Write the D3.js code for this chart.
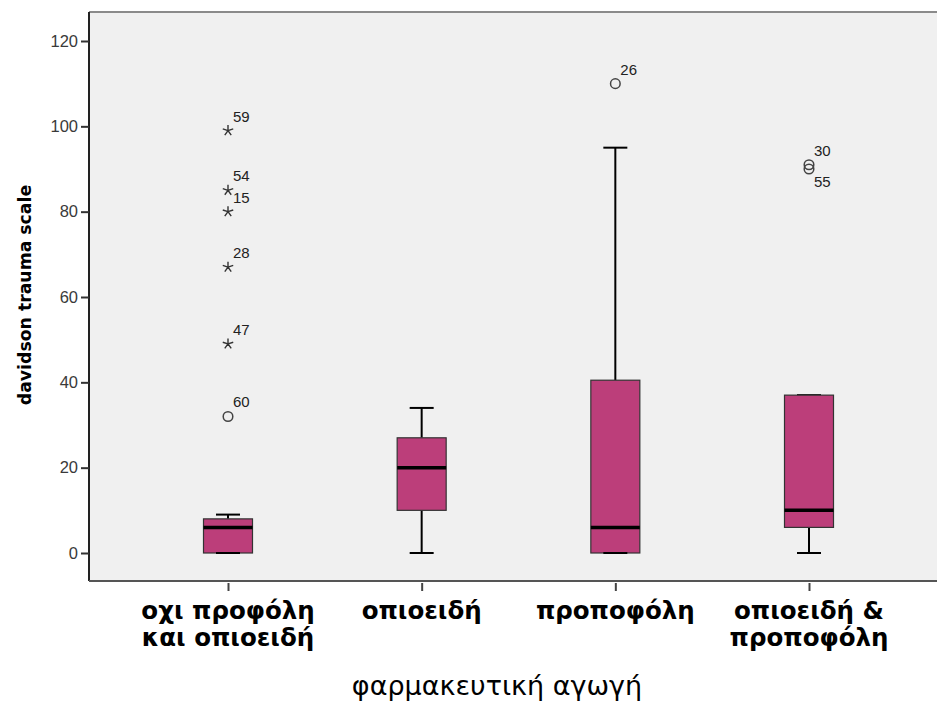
<!DOCTYPE html>
<html>
<head>
<meta charset="utf-8">
<script src="https://cdn.jsdelivr.net/npm/d3@7"></script>
<style>
    body { margin: 0; background: #fff; }
    svg { display: block; }
</style>
</head>
<body>
<svg id="chart" width="937" height="704"></svg>
<script>
// data
const categories = ["g1", "g2", "g3", "g4"];
const categoryLabels = [["οχι προφόλη", "και οπιοειδή"], ["οπιοειδή"], ["προποφόλη"], ["οπιοειδή &", "προποφόλη"]];
const whiskerLow = [0, 0, 0, 0];
const q1 = [0, 10, 0, 6];
const median = [6, 20, 6, 10];
const q3 = [8, 27, 40.5, 37];
const whiskerHigh = [9, 34, 95, 37];
// outliers: [category index, value, case id, kind, label side]
const outliers = [
    [0, 32, "60", "circle", "up"],
    [0, 49, "47", "star", "up"],
    [0, 67, "28", "star", "up"],
    [0, 80, "15", "star", "up"],
    [0, 85, "54", "star", "up"],
    [0, 99, "59", "star", "up"],
    [2, 110, "26", "circle", "up"],
    [3, 91, "30", "circle", "up"],
    [3, 90, "55", "circle", "down"]
];
const yTicks = [0, 20, 40, 60, 80, 100, 120];

const svg = d3.select("#chart");
const plotLeft = 89, plotTop = 12, plotBottom = 581, plotRight = 937;

const y = d3.scaleLinear().domain([0, 120]).range([553, 41]);
const x = d3.scalePoint().domain(categories).range([228, 809]);

// plot background
svg.append("rect")
    .attr("x", plotLeft).attr("y", plotTop)
    .attr("width", plotRight - plotLeft).attr("height", plotBottom - plotTop)
    .attr("fill", "#f0f0f0");
svg.append("line")
    .attr("x1", plotLeft).attr("x2", plotRight).attr("y1", plotTop).attr("y2", plotTop)
    .attr("stroke", "#8a8a8a").attr("stroke-width", 2);

// y axis
const yAxis = svg.append("g")
    .attr("transform", `translate(${plotLeft},0)`)
    .call(d3.axisLeft(y).tickValues(yTicks).tickSize(8).tickPadding(3));
yAxis.select(".domain").attr("d", `M0,${plotTop}V${plotBottom}`).attr("stroke", "#222").attr("stroke-width", 2);
yAxis.selectAll(".tick line").attr("stroke", "#333").attr("stroke-width", 2);
yAxis.selectAll(".tick text")
    .attr("font-family", "Liberation Sans, Arial, sans-serif")
    .attr("font-size", 16.5).attr("fill", "#3a3a3a");

// x axis
const xAxis = svg.append("g")
    .attr("transform", `translate(0,${plotBottom})`)
    .call(d3.axisBottom(x).tickSize(10).tickFormat(""));
xAxis.select(".domain").attr("d", `M${plotLeft},0H${plotRight}`).attr("stroke", "#555").attr("stroke-width", 2);
xAxis.selectAll(".tick line").attr("stroke", "#444").attr("stroke-width", 2).attr("y1", 2);

const labelGroups = svg.append("g")
    .selectAll("text")
    .data(categories)
    .join("text")
    .attr("font-family", "DejaVu Sans, Verdana, sans-serif")
    .attr("font-weight", "bold")
    .attr("font-size", 24.5)
    .attr("fill", "#000")
    .attr("text-anchor", "middle");
labelGroups.each(function (c, i) {
    d3.select(this).selectAll("tspan")
        .data(categoryLabels[i])
        .join("tspan")
        .attr("x", x(c))
        .attr("y", (d, j) => 619 + j * 26.5)
        .text(d => d);
});

// axis titles
svg.append("text")
    .attr("x", 497).attr("y", 695)
    .attr("text-anchor", "middle")
    .attr("font-family", "DejaVu Sans, Verdana, sans-serif")
    .attr("font-size", 27)
    .attr("fill", "#000")
    .text("φαρμακευτική αγωγή");
svg.append("text")
    .attr("transform", "translate(31,295) rotate(-90)")
    .attr("text-anchor", "middle")
    .attr("font-family", "DejaVu Sans, Verdana, sans-serif")
    .attr("font-weight", "bold")
    .attr("font-size", 17.3)
    .attr("fill", "#000")
    .text("davidson trauma scale");

// boxes
const boxW = 49, capW = 24;
const boxes = svg.append("g")
    .selectAll("g")
    .data(categories)
    .join("g");
boxes.append("line")
    .attr("x1", d => x(d)).attr("x2", d => x(d))
    .attr("y1", (d, i) => y(whiskerHigh[i])).attr("y2", (d, i) => y(q3[i]))
    .attr("stroke", "#000").attr("stroke-width", 2);
boxes.append("line")
    .attr("x1", d => x(d)).attr("x2", d => x(d))
    .attr("y1", (d, i) => y(q1[i])).attr("y2", (d, i) => y(whiskerLow[i]))
    .attr("stroke", "#000").attr("stroke-width", 2);
boxes.append("line")
    .attr("x1", d => x(d) - capW / 2).attr("x2", d => x(d) + capW / 2)
    .attr("y1", (d, i) => y(whiskerHigh[i])).attr("y2", (d, i) => y(whiskerHigh[i]))
    .attr("stroke", "#000").attr("stroke-width", 2);
boxes.append("rect")
    .attr("x", d => x(d) - boxW / 2)
    .attr("y", (d, i) => y(q3[i]))
    .attr("width", boxW)
    .attr("height", (d, i) => y(q1[i]) - y(q3[i]))
    .attr("fill", "#bc3e7a")
    .attr("stroke", "#333").attr("stroke-width", 1.2);
boxes.append("line")
    .attr("x1", d => x(d) - capW / 2).attr("x2", d => x(d) + capW / 2)
    .attr("y1", (d, i) => y(whiskerLow[i])).attr("y2", (d, i) => y(whiskerLow[i]))
    .attr("stroke", "#000").attr("stroke-width", 2);
boxes.append("line")
    .attr("x1", d => x(d) - boxW / 2).attr("x2", d => x(d) + boxW / 2)
    .attr("y1", (d, i) => y(median[i])).attr("y2", (d, i) => y(median[i]))
    .attr("stroke", "#000").attr("stroke-width", 3.5);

// outliers
const outG = svg.append("g")
    .selectAll("g")
    .data(outliers)
    .join("g")
    .attr("transform", d => `translate(${x(categories[d[0]])},${y(d[1])})`);
outG.filter(d => d[3] === "circle")
    .append("circle")
    .attr("r", 4.8)
    .attr("fill", "none")
    .attr("stroke", "#444").attr("stroke-width", 1.5);
const starPath = d3.range(5).map(k => {
    const a = -Math.PI / 2 + k * 2 * Math.PI / 5;
    return `M0,0L${(5.5 * Math.cos(a)).toFixed(2)},${(5.5 * Math.sin(a)).toFixed(2)}`;
}).join("");
outG.filter(d => d[3] === "star")
    .append("path")
    .attr("d", starPath)
    .attr("stroke", "#333").attr("stroke-width", 1.4)
    .attr("fill", "none");
outG.append("text")
    .attr("x", 5)
    .attr("y", d => d[4] === "up" ? -9 : 18)
    .attr("font-family", "Liberation Sans, Arial, sans-serif")
    .attr("font-size", 15)
    .attr("fill", "#222")
    .text(d => d[2]);
</script>
</body>
</html>
